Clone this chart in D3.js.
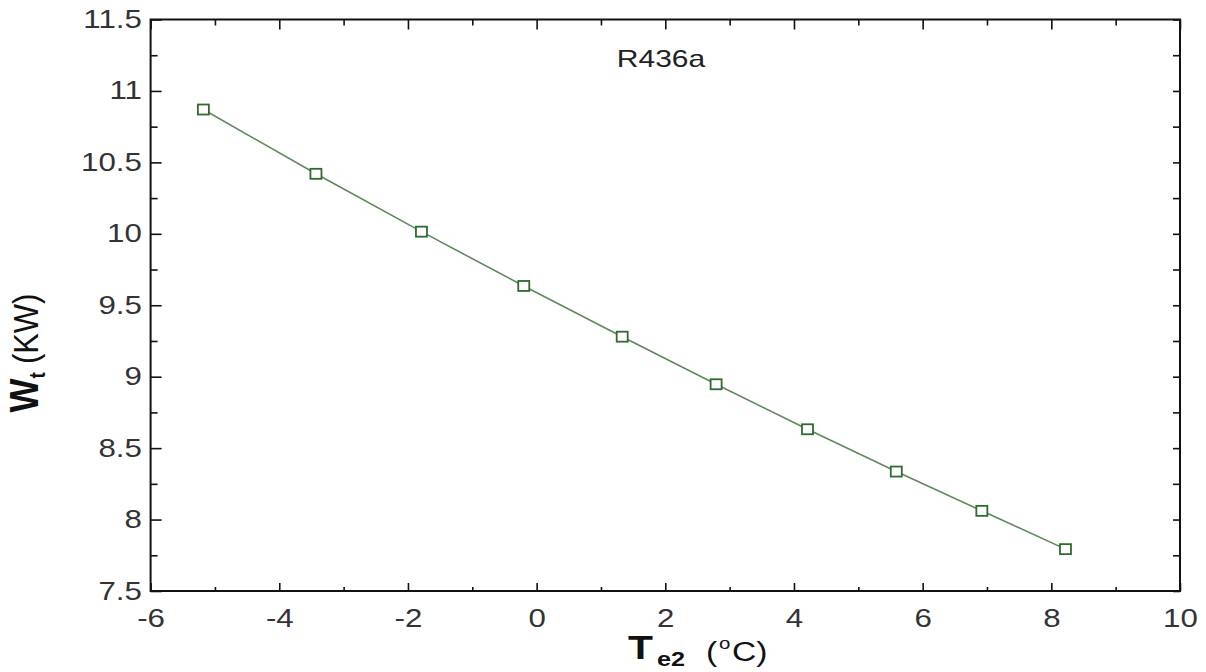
<!DOCTYPE html>
<html>
<head>
<meta charset="utf-8">
<script src="https://cdn.jsdelivr.net/npm/d3@7"></script>
<style>
  html, body { margin: 0; padding: 0; background: #fff; }
  svg { display: block; }
  text { font-family: "Liberation Sans", Arial, Helvetica, sans-serif; }
</style>
</head>
<body>
<svg id="chart" width="1206" height="672"></svg>
<script>
// ---- data ----
const te2 = [-5.18, -3.43, -1.79, -0.20, 1.33, 2.79, 4.21, 5.59, 6.92, 8.22];
const wt  = [10.87, 10.42, 10.015, 9.635, 9.28, 8.947, 8.632, 8.336, 8.061, 7.793];
const xMajorTicks = [-6, -4, -2, 0, 2, 4, 6, 8, 10];
const xMinorTicks = [-5, -3, -1, 1, 3, 5, 7, 9];
const yMajorTicks = [7.5, 8, 8.5, 9, 9.5, 10, 10.5, 11, 11.5];
const yMinorTicks = [7.75, 8.25, 8.75, 9.25, 9.75, 10.25, 10.75, 11.25];
const seriesLabel = "R436a";

// ---- layout ----
const svg = d3.select("#chart");
const L = 150.6, R = 1180, T = 19.5, B = 591;
const x = d3.scaleLinear().domain([-6, 10]).range([L, R]);
const y = d3.scaleLinear().domain([7.5, 11.5]).range([B, T]);
const SX = 1.25; // horizontal glyph stretch seen in reference
const fmt = d => String(d);

function styleAxis(g) {
  g.select(".domain").remove();
  g.selectAll("line").attr("stroke", "#111").attr("stroke-width", 1.6);
}

// bottom axis
const gB = svg.append("g").attr("transform", `translate(0,${B})`);
gB.call(d3.axisBottom(x).tickValues(xMajorTicks).tickSize(-8).tickPadding(18).tickFormat(fmt));
gB.call(styleAxis);
gB.selectAll("text").attr("font-size", 25).attr("fill", "#333").attr("transform", `scale(${SX},1)`);
const gBm = svg.append("g").attr("transform", `translate(0,${B})`);
gBm.call(d3.axisBottom(x).tickValues(xMinorTicks).tickSize(-4).tickFormat(""));
gBm.call(styleAxis);

// top axis
const gT = svg.append("g").attr("transform", `translate(0,${T})`);
gT.call(d3.axisTop(x).tickValues(xMajorTicks).tickSize(-10).tickFormat(""));
gT.call(styleAxis);
const gTm = svg.append("g").attr("transform", `translate(0,${T})`);
gTm.call(d3.axisTop(x).tickValues(xMinorTicks).tickSize(-6).tickFormat(""));
gTm.call(styleAxis);

// left axis
const gL = svg.append("g").attr("transform", `translate(${L},0)`);
gL.call(d3.axisLeft(y).tickValues(yMajorTicks).tickSize(-11).tickPadding(7).tickFormat(fmt));
gL.call(styleAxis);
gL.selectAll("text").attr("font-size", 25).attr("fill", "#333").attr("transform", `scale(${SX},1)`);
const gLm = svg.append("g").attr("transform", `translate(${L},0)`);
gLm.call(d3.axisLeft(y).tickValues(yMinorTicks).tickSize(-7).tickFormat(""));
gLm.call(styleAxis);

// right axis
const gR = svg.append("g").attr("transform", `translate(${R},0)`);
gR.call(d3.axisRight(y).tickValues(yMajorTicks.concat(yMinorTicks)).tickSize(-7).tickFormat(""));
gR.call(styleAxis);

// frame
svg.append("rect").attr("x", L).attr("y", T).attr("width", R - L).attr("height", B - T)
  .attr("fill", "none").attr("stroke", "#111").attr("stroke-width", 2);

// series line
const pts = te2.map((v, i) => [v, wt[i]]);
svg.append("path").datum(pts)
  .attr("fill", "none").attr("stroke", "#5e8a5a").attr("stroke-width", 1.6)
  .attr("d", d3.line().x(d => x(d[0])).y(d => y(d[1])));

// markers
const mw = 11, mh = 10;
svg.append("g").selectAll("rect").data(pts).join("rect")
  .attr("x", d => x(d[0]) - mw / 2).attr("y", d => y(d[1]) - mh / 2)
  .attr("width", mw).attr("height", mh)
  .attr("fill", "#fff").attr("stroke", "#2f6a2f").attr("stroke-width", 1.8);

// series label
svg.append("text").attr("transform", `translate(661,67) scale(${SX},1)`)
  .attr("text-anchor", "middle").attr("font-size", 24).attr("fill", "#222").text(seriesLabel);

// x axis title: T_e2 (°C)
const xt = svg.append("g").attr("fill", "#111");
xt.append("text").attr("transform", `translate(628,659) scale(1.2,1)`)
  .attr("font-size", 34).attr("font-weight", "bold").text("T");
xt.append("text").attr("transform", `translate(657,666) scale(1.2,1)`)
  .attr("font-size", 21).attr("font-weight", "bold").text("e2");
xt.append("text").attr("transform", `translate(706,661) scale(1.2,1)`)
  .attr("font-size", 28).text("(");
xt.append("text").attr("transform", `translate(719,649) scale(1.2,1)`)
  .attr("font-size", 17).text("o");
xt.append("text").attr("transform", `translate(732,661) scale(1.2,1)`)
  .attr("font-size", 28).text("C)");

// y axis title: W_t (KW)
const yt = svg.append("text").attr("transform", "translate(38,353) rotate(-90) scale(1,1.15)")
  .attr("text-anchor", "middle").attr("fill", "#111");
yt.append("tspan").attr("font-size", 36).attr("font-weight", "bold").text("W");
yt.append("tspan").attr("font-size", 19).attr("font-weight", "bold").attr("dy", 6).text("t");
yt.append("tspan").attr("font-size", 31).attr("dy", -6).attr("dx", 8).text("(KW)");
</script>
</body>
</html>
